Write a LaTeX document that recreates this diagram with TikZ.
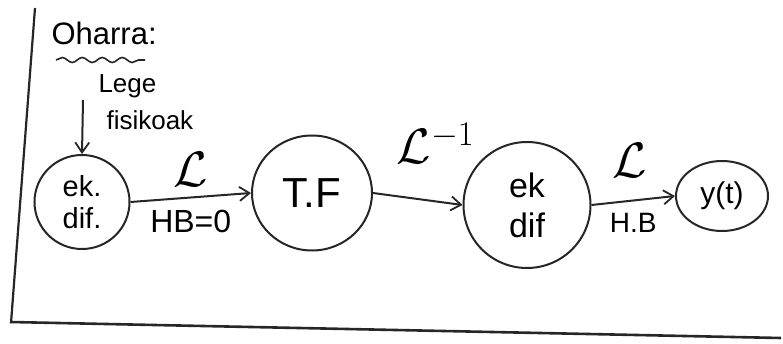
\documentclass[tikz,border=0pt]{standalone}
\usepackage{graphicx}
\usepackage{fontspec}
\setmainfont{Liberation Sans}
\usetikzlibrary{arrows.meta,decorations.pathmorphing,shapes.geometric}
\newcommand{\bigL}[1]{\scalebox{2}{\fontsize{24}{24}\selectfont$#1$}}
\begin{document}
\begin{tikzpicture}[x=1pt,y=-1pt,
  ink/.style={line width=2pt,draw=black!85},
  bubble/.style={ink,ellipse,inner sep=0pt,align=center},
  conn/.style={ink,-{Straight Barb[length=10pt,width=14pt,line width=1.8pt]}},
  lap/.style={inner sep=2pt}
]
\useasboundingbox (0,0) rectangle (783,344);
% frame
\draw[ink,line width=2.2pt] (35,8) -- (11,323);
\draw[ink,line width=2.6pt] (10,322) -- (781,338);
% title
\node[anchor=west,font=\fontsize{31}{33}\selectfont] (title) at (48,33) {Oharra:};
\draw[ink,line width=1.6pt,decorate,decoration={snake,amplitude=2.5pt,segment length=20pt}] (56,60) -- (145,60);
\node[anchor=west,font=\fontsize{26}{28}\selectfont] (lege) at (95,86) {Lege};
\node[anchor=west,font=\fontsize{26}{28}\selectfont] (fis) at (103,120) {fisikoak};
% nodes
\node[bubble,minimum width=95pt,minimum height=94pt,font=\fontsize{29}{32}\selectfont] (ed1) at (82,202) {ek.\\dif.};
\node[bubble,minimum width=120pt,minimum height=115pt,font=\fontsize{42}{44}\selectfont] (tf) at (312,193) {T.F};
\node[bubble,minimum width=127pt,minimum height=126pt,font=\fontsize{34}{40}\selectfont] (ed2) at (527,205) {ek\\dif};
\node[bubble,minimum width=92pt,minimum height=70pt,font=\fontsize{30}{32}\selectfont] (y) at (722,196) {y(t)};
% input arrow
\coordinate (in) at (83,100);
\draw[conn] (in) -- (ed1.north);
% connectors
\draw[conn] (ed1.east) -- (tf.west)
  node[midway,above=8pt,lap] {\bigL{\mathcal{L}}}
  node[midway,below=8pt,font=\fontsize{32}{32}\selectfont] {HB=0};
\draw[conn] (tf.east) -- (ed2.west)
  node[midway,above=32pt,xshift=18pt,lap] {\bigL{\mathcal{L}^{-1}}};
\draw[conn] (ed2.east) -- (y.west)
  node[midway,above=20pt,xshift=-4pt,lap] {\bigL{\mathcal{L}}}
  node[midway,below=8pt,font=\fontsize{28}{28}\selectfont] {H.B};
\end{tikzpicture}
\end{document}
